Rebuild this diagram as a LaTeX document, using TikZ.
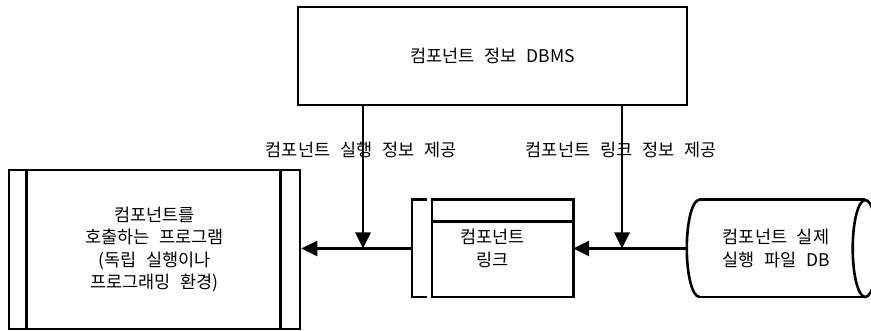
\documentclass[tikz,border=0pt]{standalone}
\usepackage{fontspec}
\setmainfont[WordSpace=2.5]{Noto Sans CJK KR}
\usetikzlibrary{arrows.meta,calc}
\begin{document}
\begin{tikzpicture}[x=1pt,y=-1pt,
  ln/.style={line width=2.6pt},
  box/.style={draw,ln,rectangle,inner sep=0pt},
  txt/.style={font=\fontsize{17.5pt}{22.5pt}\selectfont,align=center},
  arr/.style={ln,-{Triangle[length=16pt,width=15pt]}},
]
\clip (0,0) rectangle (871,331);
\fill[white] (0,0) rectangle (871,331);

% top DBMS box
\node[box,txt,minimum width=389pt,minimum height=98pt] (dbms) at (492.5,56) {컴포넌트 정보 DBMS};

% calling program (double-bordered box)
\node[box,txt,minimum width=291pt,minimum height=159pt] (prog) at (154.5,249.5) {컴포넌트를\\호출하는 프로그램\\(독립 실행이나\\프로그래밍 환경)};
\draw[ln] ([xshift=19pt]prog.north west) -- ([xshift=19pt]prog.south west);
\draw[ln] ([xshift=-21pt]prog.north east) -- ([xshift=-21pt]prog.south east);

% component link
\node[txt,inner sep=0pt,minimum width=161pt,minimum height=97pt] (link) at (492.5,248.5) {컴포넌트\\링크};
\draw[ln] ([xshift=20pt]link.north west) rectangle (link.south east);
\draw[ln] ([xshift=20pt,yshift=-22pt]link.north west) -- ([yshift=-22pt]link.north east);
\draw[ln] ([xshift=15pt]link.north west) -- (link.north west) -- (link.south west) -- ([xshift=15pt]link.south west);

% component file DB (horizontal cylinder)
\node[txt,inner sep=0pt,minimum width=178pt,minimum height=97pt] (db) at (776,248.5) {컴포넌트 실제\\실행 파일 DB};
\draw[ln] ($(db.north west)+(12.5,0)$) arc[start angle=90,end angle=270,x radius=12.5pt,y radius=48.5pt];
\draw[ln] ($(db.north west)+(12.5,0)$) -- (db.north east);
\draw[ln] ($(db.south west)+(12.5,0)$) -- (db.south east);
\draw[ln] (db.east) ellipse[x radius=12.5pt,y radius=48.5pt];

% connectors
\coordinate (j1) at (363,248.5);
\coordinate (j2) at (622,248.5);
\draw[arr] (link.west) -- (link.west -| prog.east);
\draw[arr] (db.west) -- (link.east);
\draw[arr] (dbms.south -| j1) -- (j1);
\draw[arr] (dbms.south -| j2) -- (j2);

% labels
\node[txt] (lab1) at (361,150) {컴포넌트 실행 정보 제공};
\node[txt] (lab2) at (621,150) {컴포넌트 링크 정보 제공};
\end{tikzpicture}
\end{document}
